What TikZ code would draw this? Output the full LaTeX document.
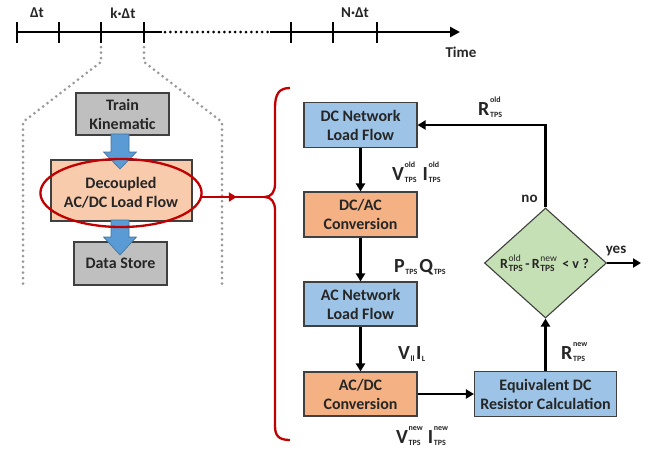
\documentclass[tikz,border=0pt]{standalone}
\usepackage{fontspec}
\setmainfont{Carlito}
\usetikzlibrary{shapes.geometric,arrows.meta,calc}
\definecolor{txtc}{HTML}{262626}
\definecolor{edge}{HTML}{404040}
\definecolor{grayfill}{HTML}{BFBFBF}
\definecolor{peach}{HTML}{F8CBAD}
\definecolor{orangefill}{HTML}{F4B183}
\definecolor{bluefill}{HTML}{9DC3E6}
\definecolor{greenfill}{HTML}{C5E0B4}
\definecolor{arrowblue}{HTML}{5B9BD5}
\definecolor{arrowblueedge}{HTML}{41719C}
\definecolor{darkred}{HTML}{C00000}
\definecolor{dotgray}{HTML}{999999}
\newsavebox\supbx
\newsavebox\subbx
\newcommand\bsc[7]{%
  \mbox{\fontsize{#1}{#1}\selectfont #5}\kern0.6pt
  \begingroup\fontsize{#2}{#2}\selectfont
  \sbox\supbx{#6}\sbox\subbx{#7}%
  \ifdim\wd\supbx>\wd\subbx \dimen0=\wd\supbx \else \dimen0=\wd\subbx \fi
  \rlap{\raisebox{#3}{\usebox\supbx}}\rlap{\raisebox{-#4}{\usebox\subbx}}\kern\dimen0
  \endgroup}
\newcommand\lbl[3]{\bsc{20}{8}{12.5pt}{2pt}{#1}{#2}{#3}}
\newcommand\dlb[3]{\bsc{14}{9.5}{7.5pt}{2.2pt}{#1}{\mdseries #2}{#3}}
\begin{document}
\begin{tikzpicture}[x=1pt,y=-1pt,
  box/.style={draw=edge, line width=1.1pt, align=center, inner sep=0pt, text=txtc,
    font=\fontsize{16}{19}\selectfont\bfseries, minimum width=#1},
  box/.default=113pt,
  flow/.style={line width=2.5pt, -{Triangle[length=8pt,width=9pt]}},
  tl/.style={line width=2.8pt},
  tickmark/.style={line width=2.8pt},
  dotline/.style={line width=3pt, line cap=round, dash pattern=on 0pt off 5.4pt},
  graydots/.style={dotgray, line width=3pt, line cap=round, dash pattern=on 0pt off 5.5pt},
  lab/.style={inner sep=0pt, text=txtc, font=\bfseries},
  tlab/.style={inner sep=0pt, text=txtc, font=\fontsize{15}{17}\selectfont\bfseries},
  bluearrow/.style={fill=arrowblue, draw=arrowblueedge, line width=0.6pt},
  redline/.style={darkred, line width=2.3pt}
]
\useasboundingbox (0,0) rectangle (649,451);

% ---------------- timeline ----------------
\draw[tl] (17,32) -- (162,32);
\draw[dotline] (165,32) -- (268,32);
\draw[tl,-{Triangle[length=10pt,width=10pt]}] (270,32) -- (460,32);
\foreach \x in {17,59,101,144,291,333,377}
  \draw[tickmark] (\x,22) -- (\x,43);
\node[tlab] (l1) at (37,13) {Δt};
\node[tlab] (lk) at (123,13) {k·Δt};
\node[tlab] (lN) at (355,13) {N·Δt};
\node[tlab] (ltime) at (461,52) {Time};

% gray zoom lines
\draw[graydots] (101,47) -- (101,62) -- (23,122) -- (23,288);
\draw[graydots] (144,47) -- (144,62) -- (222,122) -- (222,288);

% ---------------- left blocks ----------------
\node[box=93pt, minimum height=42pt, fill=grayfill] (train) at (122.5,114) {Train\\Kinematic};
\node[box=141pt, minimum height=61pt, fill=peach] (decbox) at (121.5,190.5) {};
\node[box=93pt, minimum height=43pt, fill=grayfill] (store) at (120.5,263.5) {Data Store};

% block arrows
\draw[bluearrow] (111,134) -- (129,134) -- (129,152) -- (136.5,152) -- (120,169)
  -- (103.5,152) -- (111,152) -- cycle;
\draw[bluearrow] (111,220) -- (129,220) -- (129,237) -- (136.5,237) -- (120,255)
  -- (103.5,237) -- (111,237) -- cycle;

% ellipse highlight
\node[ellipse, draw=darkred, line width=2.3pt, minimum width=146pt, minimum height=68pt,
  inner sep=0pt, align=center, text=txtc, font=\fontsize{16}{19}\selectfont\bfseries]
  (ell) at (121,193) {Decoupled\\AC/DC Load Flow};

% brace and red connector
\coordinate (bt) at (265,197);
\draw[redline] (290,88) .. controls (279,88) and (275,94) .. (275,108) -- (275,184)
  .. controls (275,192) and (271,197) .. (bt)
  .. controls (271,197) and (275,202) .. (275,210) -- (275,426)
  .. controls (275,436) and (279,440) .. (290,440);
\coordinate (rs) at ($(ell.east |- bt)+(-0.5,0)$);
\draw[redline] (rs) -- (bt);
\draw[redline,-{Triangle[length=8pt,width=9pt]}] (rs) -- ($(rs)!0.55!(bt)$);

% ---------------- right flow ----------------
\node[box, minimum height=45pt, fill=bluefill] (dcnet) at (360.5,125) {DC Network\\Load Flow};
\node[box, minimum height=45pt, fill=orangefill] (dcac) at (360.5,214.5) {DC/AC\\Conversion};
\node[box, minimum height=44pt, fill=bluefill] (acnet) at (360.5,304) {AC Network\\Load Flow};
\node[box, minimum height=44pt, fill=orangefill] (acdc) at (360.5,394) {AC/DC\\Conversion};
\node[box=142pt, minimum height=45pt, fill=bluefill] (equiv) at (545.5,394) {Equivalent DC\\Resistor Calculation};
\node[diamond, draw=edge, line width=1.1pt, fill=greenfill, minimum width=122pt,
  minimum height=110pt, inner sep=0pt] (dec) at (545.5,263) {};
\node[lab, font=\fontsize{14}{16}\selectfont\bfseries] (dectext) at (544.5,263)
  {\dlb{R}{old}{TPS}\,-\,\dlb{R}{new}{TPS}\, < v ?};

\draw[flow] (dcnet) -- (dcac);
\draw[flow] (dcac) -- (acnet);
\draw[flow] (acnet) -- (acdc);
\draw[flow] (acdc) -- (equiv);
\draw[flow] (equiv) -- (dec);
\draw[flow] (dec.north) |- (dcnet.east);
\coordinate (yesend) at (641,265);
\draw[flow] (dec.east) -- (dec.east -| yesend);

% labels
\node[lab, anchor=base west] (lvold) at (392,180) {\lbl{V}{old}{TPS}\hspace{6pt}\lbl{I}{old}{TPS}};
\node[lab, anchor=base west] (lpq) at (394,272) {\lbl{P}{}{TPS}\hspace{2pt}\lbl{Q}{}{TPS}};
\node[lab, anchor=base west] (lvi) at (398,359) {\lbl{V}{}{ll}\hspace{1.5pt}\lbl{I}{}{L}};
\node[lab, anchor=base west] (lvnew) at (396,443) {\lbl{V}{new}{TPS}\hspace{5pt}\lbl{I}{new}{TPS}};
\node[lab, anchor=base west] (lrold) at (478,115) {\lbl{R}{old}{TPS}};
\node[lab, anchor=base west] (lrnew) at (561,359) {\lbl{R}{new}{TPS}};
\node[tlab] (lno) at (529.5,199) {no};
\node[tlab] (lyes) at (616,251) {yes};
\end{tikzpicture}
\end{document}
